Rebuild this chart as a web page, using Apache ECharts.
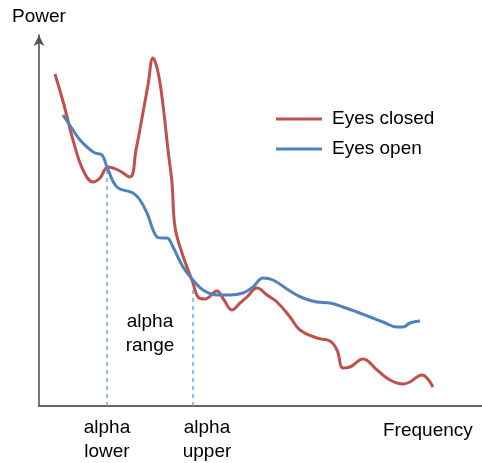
<!DOCTYPE html>
<html>
<head>
<meta charset="utf-8">
<script src="https://cdn.jsdelivr.net/npm/echarts@6/dist/echarts.min.js"></script>
<style>
  html, body { margin: 0; padding: 0; background: #fff; }
  #chart { width: 482px; height: 463px; }
</style>
</head>
<body>
<div id="chart"></div>
<script>
// Power spectrum (arbitrary units): frequency on x, power on y
const eyesClosed = [
  [16,332],[25,301],[34,266],[44,236],[54,224],[61,228],[69,239],[79,236],[91,229],
  [97,256],[103,288],[109,321],[114,348],[119,334],[124,301],[129,256],[133,223],
  [136,179],[143,153],[154,123],[159,109],[166,107],[178,115],[185,106],[193,96],
  [201,103],[208,109],[218,118],[228,111],[238,104],[251,89],[261,76],[278,68],
  [291,65],[298,56],[304,38],[311,39],[324,47],[338,36],[351,26],[364,22],[371,24],
  [383,31],[388,28],[394,19]
];
const eyesOpen = [
  [24,291],[34,276],[41,266],[48,259],[56,253],[63,251],[68,239],[78,219],[94,213],
  [101,206],[108,193],[118,169],[123,168],[128,168],[134,159],[144,139],[154,126],
  [164,116],[178,111],[191,111],[204,113],[214,119],[224,128],[234,126],[251,115],
  [264,108],[278,104],[291,103],[304,99],[318,94],[331,89],[344,84],[358,79],
  [364,79],[371,83],[381,85]
];
// alpha band limits: [frequency, power where the guide line stops]
const alphaLower = [68, 239];
const alphaUpper = [154, 123];
const seriesNames = ['Eyes closed', 'Eyes open'];

const RED = '#c0504d';
const BLUE = '#4f81bd';
const GUIDE = '#5b9bd5';
const FONT = '"Liberation Sans", Arial, sans-serif';

const chart = echarts.init(document.getElementById('chart'), null, { renderer: 'canvas' });

function guide(p) {
  return {
    type: 'line',
    data: [[p[0], 0], [p[0], p[1]]],
    showSymbol: false,
    silent: true,
    lineStyle: { color: GUIDE, width: 1.3, type: [4, 4] },
    z: 1
  };
}

const textStyle = { fill: '#000', fontSize: 19, fontFamily: FONT };

chart.setOption({
  animation: false,
  grid: { left: 39, right: 0, top: 35, bottom: 57 },
  xAxis: {
    type: 'value', min: 0, max: 443,
    axisLine: { show: true, lineStyle: { color: '#666', width: 2 } },
    axisTick: { show: false }, axisLabel: { show: false }, splitLine: { show: false }
  },
  yAxis: {
    type: 'value', min: 0, max: 371,
    axisLine: { show: true, symbol: ['none', 'arrow'], symbolSize: [8, 11], symbolOffset: [0, 0],
      lineStyle: { color: '#555', width: 1.6 } },
    axisTick: { show: false }, axisLabel: { show: false }, splitLine: { show: false }
  },
  legend: {
    data: seriesNames,
    orient: 'vertical',
    left: 271, top: 103,
    icon: 'rect',
    itemWidth: 46, itemHeight: 3,
    itemGap: 8,
    textStyle: { fontSize: 19, fontFamily: FONT, color: '#000', padding: [0, 0, 0, 5], lineHeight: 22 }
  },
  series: [
    guide(alphaLower),
    guide(alphaUpper),
    {
      name: seriesNames[0], type: 'line', data: eyesClosed, smooth: 0.4,
      showSymbol: false, lineStyle: { color: RED, width: 3 }, itemStyle: { color: RED }, z: 3
    },
    {
      name: seriesNames[1], type: 'line', data: eyesOpen, smooth: 0.4,
      showSymbol: false, lineStyle: { color: BLUE, width: 3 }, itemStyle: { color: BLUE }, z: 4
    }
  ],
  graphic: [
    { type: 'text', left: 12, top: 7, style: Object.assign({ text: 'Power' }, textStyle) },
    { type: 'text', left: 383, top: 421, style: Object.assign({ text: 'Frequency' }, textStyle) },
    { type: 'text', x: 150, y: 310, style: Object.assign({ text: 'alpha\nrange', align: 'center', lineHeight: 24 }, textStyle) },
    { type: 'text', x: 107, y: 416, style: Object.assign({ text: 'alpha\nlower', align: 'center', lineHeight: 24 }, textStyle) },
    { type: 'text', x: 207, y: 416, style: Object.assign({ text: 'alpha\nupper', align: 'center', lineHeight: 24 }, textStyle) }
  ]
});
</script>
</body>
</html>
